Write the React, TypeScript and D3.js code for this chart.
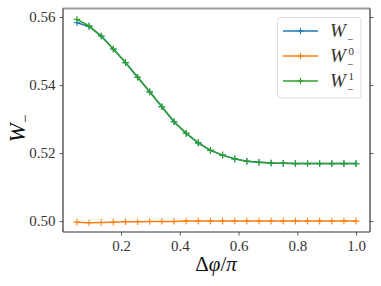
import React, { useEffect, useRef } from "react";
import * as d3 from "d3";

// x values: 24 samples of dphi/pi from 0.05 to 1.0
const phi = [
  0.05, 0.0913, 0.1326, 0.1739, 0.2152, 0.2565, 0.2978, 0.3391, 0.3804,
  0.4217, 0.463, 0.5043, 0.5457, 0.587, 0.6283, 0.6696, 0.7109, 0.7522,
  0.7935, 0.8348, 0.8761, 0.9174, 0.9587, 1.0,
];

const wMinus = [
  0.5583, 0.5572, 0.5544, 0.5506, 0.5466, 0.5423, 0.538, 0.5336, 0.5292,
  0.5258, 0.523, 0.5208, 0.5194, 0.5183, 0.5176, 0.5173, 0.5171, 0.517,
  0.5169, 0.5169, 0.5169, 0.5169, 0.5169, 0.5169,
];

const wMinus0 = [
  0.4997, 0.4995, 0.4996, 0.4997, 0.4998, 0.4998, 0.4999, 0.4999, 0.4999,
  0.5, 0.5, 0.5, 0.5, 0.5, 0.5, 0.5, 0.5, 0.5, 0.5, 0.5, 0.5, 0.5, 0.5, 0.5,
];

const wMinus1 = [
  0.5593, 0.5574, 0.5544, 0.5506, 0.5466, 0.5423, 0.538, 0.5336, 0.5292,
  0.5258, 0.523, 0.5208, 0.5194, 0.5183, 0.5176, 0.5173, 0.5171, 0.517,
  0.5169, 0.5169, 0.5169, 0.5169, 0.5169, 0.5169,
];

const xTicks = [0.2, 0.4, 0.6, 0.8, 1.0];
const yTicks = [0.5, 0.52, 0.54, 0.56];

const series = [
  { name: "W", sup: "", values: wMinus, color: "#1f77b4" },
  { name: "W", sup: "0", values: wMinus0, color: "#ff7f0e" },
  { name: "W", sup: "1", values: wMinus1, color: "#2ca02c" },
];

const W = 381;
const H = 286;
const serif = '"Liberation Serif", "DejaVu Serif", serif';

export default function App() {
  const ref = useRef<SVGSVGElement>(null);

  useEffect(() => {
    const svg = d3.select(ref.current);
    svg.selectAll("*").remove();

    const left = 63, right = 370, top = 8.5, bottom = 232;
    const x = d3.scaleLinear().domain([0.0025, 1.0475]).range([left, right]);
    const y = d3.scaleLinear().domain([0.4968, 0.5625]).range([bottom, top]);

    svg.append("rect").attr("width", W).attr("height", H).attr("fill", "#fff");

    // axes
    const bottomAxis = svg
      .append("g")
      .attr("transform", `translate(0,${bottom})`)
      .call(d3.axisBottom(x).tickValues(xTicks).tickFormat(d3.format(".1f")).tickSize(3.5).tickPadding(5));
    const leftAxis = svg
      .append("g")
      .attr("transform", `translate(${left},0)`)
      .call(d3.axisLeft(y).tickValues(yTicks).tickFormat(d3.format(".2f")).tickSize(3.5).tickPadding(4));
    const rightAxis = svg
      .append("g")
      .attr("transform", `translate(${right},0)`)
      .call(d3.axisRight(y).tickValues(yTicks).tickFormat(() => "").tickSize(3.5));

    [bottomAxis, leftAxis, rightAxis].forEach((g) => {
      g.attr("font-family", null).style("font-family", serif);
      g.select(".domain").remove();
      g.selectAll("line").attr("stroke", "#333").attr("stroke-width", 0.8);
      g.selectAll("text")
        .style("font-family", serif)
        .attr("font-size", 15)
        .attr("fill", "#333");
    });

    // spines
    svg.append("line").attr("x1", left).attr("x2", right).attr("y1", top).attr("y2", top)
      .attr("stroke", "#999").attr("stroke-width", 2);
    svg.append("line").attr("x1", left).attr("x2", right).attr("y1", bottom).attr("y2", bottom)
      .attr("stroke", "#333").attr("stroke-width", 1.2);
    svg.append("line").attr("x1", left).attr("x2", left).attr("y1", top).attr("y2", bottom)
      .attr("stroke", "#333").attr("stroke-width", 1.2);
    svg.append("line").attr("x1", right).attr("x2", right).attr("y1", top).attr("y2", bottom)
      .attr("stroke", "#333").attr("stroke-width", 1.2);

    const line = d3
      .line<number>()
      .x((_, i) => x(phi[i]))
      .y((d) => y(d))
      .curve(d3.curveLinear);

    const plus = (g: any, cx: number, cy: number, color: string, s = 3.3) => {
      g.append("path")
        .attr("d", `M${cx - s},${cy}H${cx + s}M${cx},${cy - s}V${cy + s}`)
        .attr("stroke", color)
        .attr("stroke-width", 1.1)
        .attr("fill", "none");
    };

    series.forEach((s) => {
      const g = svg.append("g");
      g.append("path")
        .attr("d", line(s.values))
        .attr("fill", "none")
        .attr("stroke", s.color)
        .attr("stroke-width", 1.5);
      s.values.forEach((v, i) => plus(g, x(phi[i]), y(v), s.color));
    });

    // legend
    const lg = svg.append("g").style("font-family", serif);
    lg.append("rect")
      .attr("x", 277.5).attr("y", 17.5).attr("width", 83.5).attr("height", 80.5)
      .attr("rx", 3).attr("fill", "#fff").attr("fill-opacity", 0.8)
      .attr("stroke", "#ddd").attr("stroke-width", 1);
    series.forEach((s, i) => {
      const ly = 31 + i * 25;
      lg.append("line").attr("x1", 283).attr("x2", 318).attr("y1", ly).attr("y2", ly)
        .attr("stroke", s.color).attr("stroke-width", 1.5);
      plus(lg, 300.5, ly, s.color);
      lg.append("text")
        .attr("x", 330).attr("y", ly + 6)
        .attr("font-size", 19).attr("font-style", "italic").attr("fill", "#333")
        .text(s.name);
      if (s.sup) {
        lg.append("text").attr("x", 348.5).attr("y", ly - 1.5)
          .attr("font-size", 11).attr("fill", "#333").text(s.sup);
      }
      lg.append("text").attr("x", 347).attr("y", ly + 12)
        .attr("font-size", 11).attr("fill", "#333").text("\u2212");
    });

    // axis labels
    const xl = svg.append("text")
      .attr("x", 216).attr("y", 271)
      .attr("text-anchor", "middle")
      .style("font-family", serif).attr("font-size", 21).attr("fill", "#111");
    xl.append("tspan").text("\u0394");
    xl.append("tspan").attr("font-style", "italic").text("\u03c6");
    xl.append("tspan").text("/");
    xl.append("tspan").attr("font-style", "italic").text("\u03c0");

    const yl = svg.append("g").attr("transform", "translate(25,133) rotate(-90)")
      .style("font-family", serif);
    yl.append("text").attr("x", 0).attr("y", 0).attr("text-anchor", "middle")
      .attr("font-size", 23).attr("font-style", "italic")
      .attr("fill", "#111").text("W");
    yl.append("text").attr("x", 10).attr("y", 5)
      .attr("font-size", 15).attr("fill", "#111").text("\u2212");
  }, []);

  return (
    <div style={{ position: "fixed", left: 0, top: 0 }}>
      <svg ref={ref} width={W} height={H} />
    </div>
  );
}
